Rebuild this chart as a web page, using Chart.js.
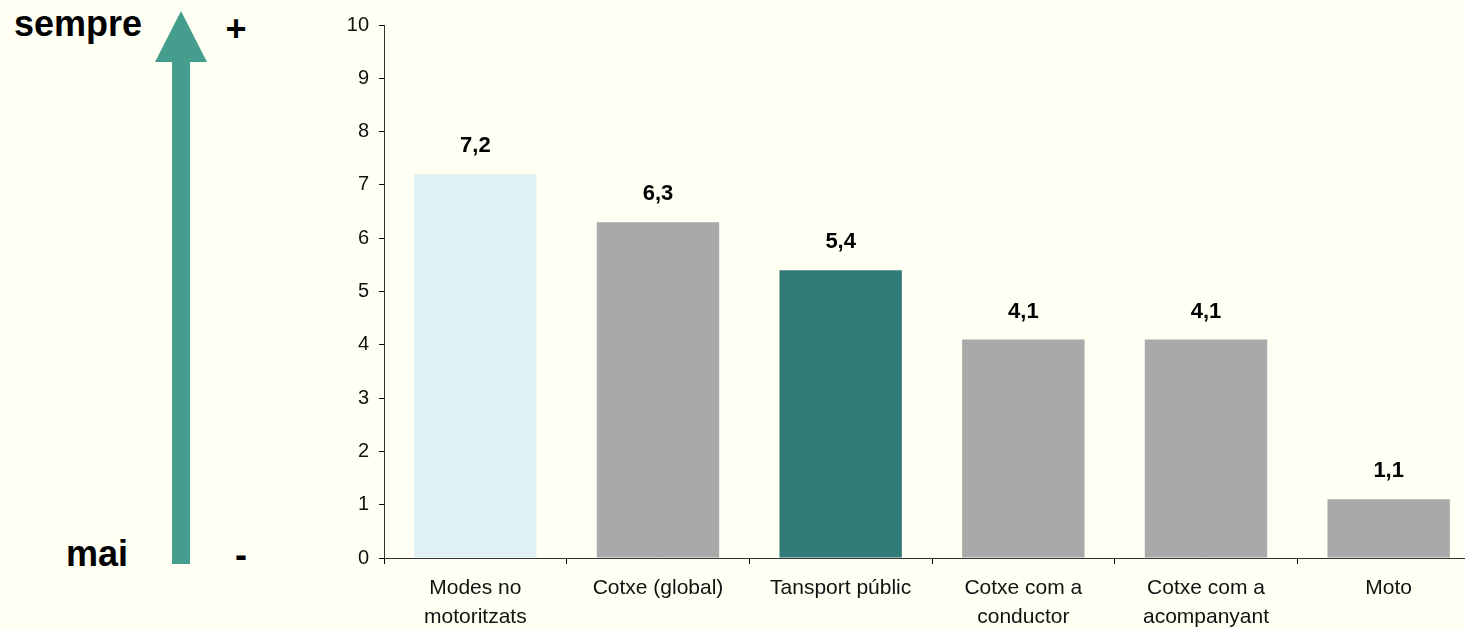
<!DOCTYPE html>
<html>
<head>
<meta charset="utf-8">
<script src="https://cdn.jsdelivr.net/npm/chart.js@4"></script>
<style>
  html, body { margin: 0; padding: 0; background: #FFFFF3; overflow: hidden; }
  #wrap { position: absolute; left: 0; top: 0; width: 1480px; height: 629px; }
  #side { position: absolute; left: 0; top: 0; }
  #side text { font-family: "Liberation Sans", Arial, sans-serif; font-weight: bold; font-size: 36px; fill: #000; }
</style>
</head>
<body>
<svg id="side" width="330" height="629">
  <polygon points="155,62 181,11 207,62" fill="#449D8D"/>
  <rect x="172" y="61" width="18" height="503" fill="#449D8D"/>
  <text x="14" y="36">sempre</text>
  <text x="236" y="41" text-anchor="middle">+</text>
  <text x="66" y="566">mai</text>
  <text x="241" y="567" text-anchor="middle">-</text>
</svg>
<div id="wrap"><canvas id="barChart"></canvas></div>
<script>
const categories = [
  ['Modes no', 'motoritzats'],
  'Cotxe (global)',
  'Tansport públic',
  ['Cotxe com a', 'conductor'],
  ['Cotxe com a', 'acompanyant'],
  'Moto'
];
const values = [7.2, 6.3, 5.4, 4.1, 4.1, 1.1];
const barColors = ['#E0F1F3', '#A9A9A9', '#307A77', '#A9A9A9', '#A9A9A9', '#A9A9A9'];
const yTicks = [0, 1, 2, 3, 4, 5, 6, 7, 8, 9, 10];

// value above each bar, decimal comma
const valueLabels = {
  id: 'valueLabels',
  afterDatasetsDraw(chart) {
    const ctx = chart.ctx;
    const meta = chart.getDatasetMeta(0);
    ctx.save();
    ctx.font = 'bold 22px "Liberation Sans", Arial, sans-serif';
    ctx.fillStyle = '#000';
    ctx.textAlign = 'center';
    ctx.textBaseline = 'middle';
    meta.data.forEach((bar, i) => {
      ctx.fillText(values[i].toFixed(1).replace('.', ','), bar.x, bar.y - 28);
    });
    ctx.restore();
  }
};

new Chart(document.getElementById('barChart'), {
  type: 'bar',
  data: {
    labels: categories,
    datasets: [{
      data: values,
      backgroundColor: barColors,
      borderWidth: 0,
      barPercentage: 0.67,
      categoryPercentage: 1
    }]
  },
  options: {
    responsive: true,
    maintainAspectRatio: false,
    animation: false,
    layout: { padding: { left: 334, top: 25, right: 0, bottom: 0 } },
    plugins: {
      legend: { display: false },
      tooltip: { enabled: false }
    },
    scales: {
      x: {
        grid: {
          offset: true,
          drawOnChartArea: false,
          drawTicks: true,
          tickLength: 6,
          color: '#000'
        },
        border: { color: '#333', width: 1 },
        ticks: {
          color: '#111',
          padding: 10,
          maxRotation: 0,
          autoSkip: false,
          font: { family: '"Liberation Sans", Arial, sans-serif', size: 21, lineHeight: 1.38 }
        },
        afterFit(scale) { scale.height = 71; }
      },
      y: {
        min: 0,
        max: 10,
        afterBuildTicks(scale) { scale.ticks = yTicks.map(v => ({ value: v })); },
        grid: {
          drawOnChartArea: false,
          drawTicks: true,
          tickLength: 5,
          color: '#000'
        },
        border: { color: '#333', width: 1 },
        ticks: {
          color: '#111',
          padding: 10,
          font: { family: '"Liberation Sans", Arial, sans-serif', size: 20 }
        },
        afterFit(scale) { scale.width = 50; }
      }
    }
  },
  plugins: [valueLabels]
});
</script>
</body>
</html>
